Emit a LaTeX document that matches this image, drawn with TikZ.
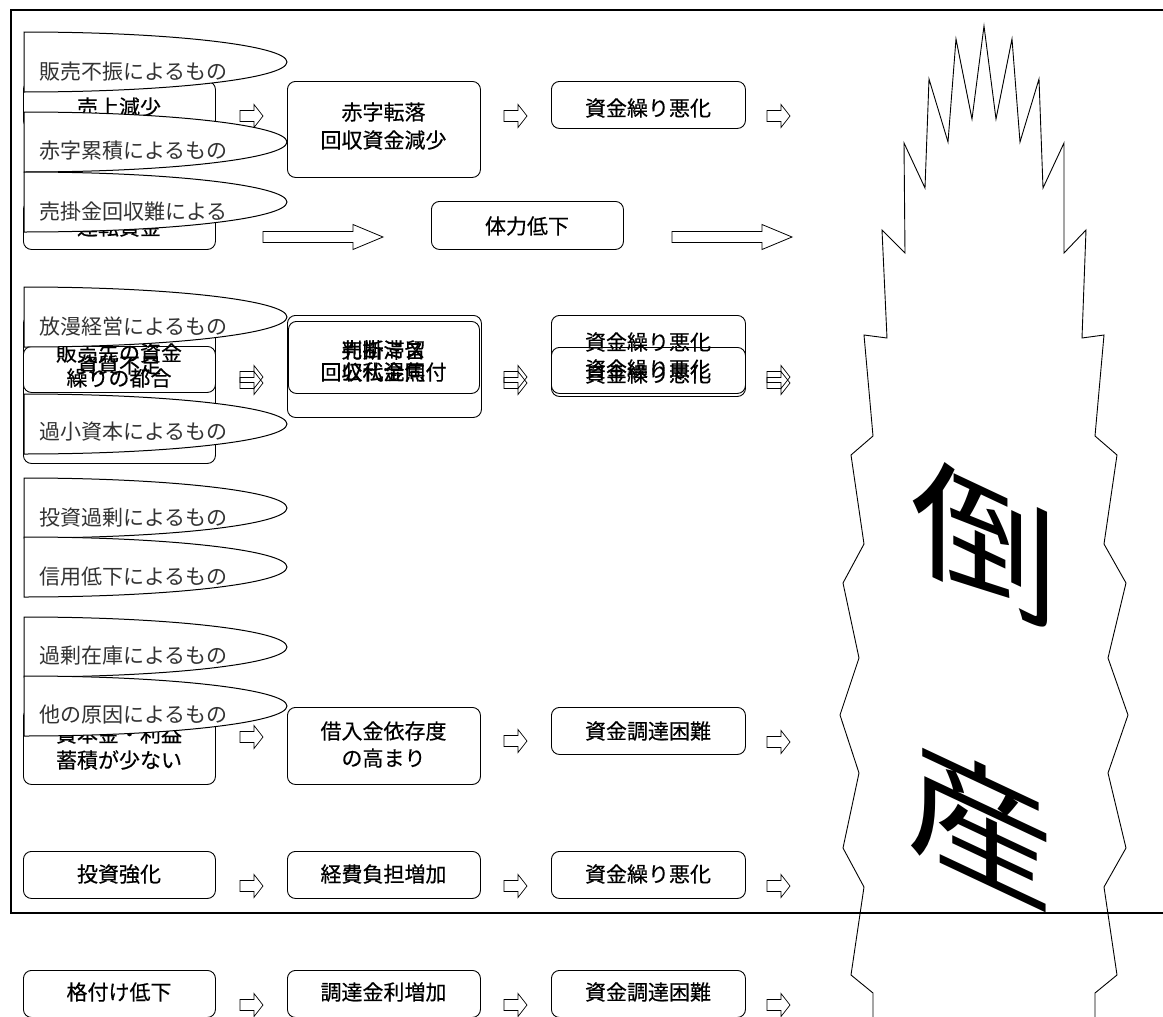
\documentclass[tikz,border=0pt]{standalone}
\usepackage{fontspec}
\newfontfamily\jp{Noto Sans CJK JP}
\newfontfamily\jpb{Noto Sans CJK JP}[FakeBold=0.4]
\begin{document}
\begin{tikzpicture}[x=1pt,y=-1pt,
  box/.style={draw, rounded corners=8pt, fill=white, line width=0.9pt, inner sep=0pt, anchor=north west},
  obox/.style={draw, rounded corners=8pt, line width=0.9pt, inner sep=0pt, anchor=north west},
  btxt/.style={font=\jpb\fontsize{21}{22}\selectfont, inner sep=0pt},
  etxt/.style={font=\jp\fontsize{21}{22}\selectfont, text=black!80, inner sep=0pt, anchor=west},
  bigchar/.style={font=\jp\fontsize{132}{140}\selectfont, inner sep=0pt, transform shape},
  halfell/.pic={\draw[fill=white, line width=1pt] (0,0) .. controls (145.3,0) and (263,13.4) .. (263,30) .. controls (263,46.6) and (145.3,60) .. (0,60) -- cycle;},
  sarrow/.pic={\draw[fill=white, line width=0.7pt] (0,-5.5) -- (14,-5.5) -- (14,-11.5) -- (23,0) -- (14,11.5) -- (14,5.5) -- (0,5.5) -- cycle;},
  oarrow/.pic={\draw[line width=0.7pt] (0,-5.5) -- (14,-5.5) -- (14,-11.5) -- (23,0) -- (14,11.5) -- (14,5.5) -- (0,5.5) -- cycle;},
  bigarrow/.pic={\draw[fill=white, line width=0.8pt] (0,-5.5) -- (90,-5.5) -- (90,-12.5) -- (120,0) -- (90,12.5) -- (90,5.5) -- (0,5.5) -- cycle;},
]
\useasboundingbox (0,0) rectangle (1163,1017);
\fill[white] (0,0) rectangle (1163,1017);

% outer frame
\draw[line width=2.5pt] (1180,10) -- (11,10) -- (11,913) -- (1180,913);

% ---------- boxes ----------
% row 1
\node[box, minimum width=192pt, minimum height=47pt] (b11) at (23,81) {};
\node[btxt] (t11) at (119,107) {売上減少};
\node[box, minimum width=193pt, minimum height=96pt] (b12) at (287,81) {};
\node[btxt] (t12a) at (383.5,112) {赤字転落};
\node[btxt] (t12b) at (383.5,140) {回収資金減少};
\node[box, minimum width=194pt, minimum height=47pt] (b13) at (551,81) {};
\node[btxt] (t13) at (648,108) {資金繰り悪化};
\pic at (240,116) {sarrow};
\pic at (504,116) {sarrow};
\pic at (767,116) {sarrow};

% row 2
\node[box, minimum width=192pt, minimum height=48pt] (b21) at (23,201) {};
\node[btxt] (t21) at (119,227) {運転資金};
\node[box, minimum width=192pt, minimum height=48pt] (b22) at (431,201) {};
\node[btxt] (t22) at (527,226) {体力低下};
\pic at (263,237) {bigarrow};
\pic at (672,237) {bigarrow};

% row 3 (overlapping)
\node[box, minimum width=192pt, minimum height=148pt] (b31q) at (23,315) {};
\node[box, minimum width=192pt, minimum height=46pt] (b31p) at (23,346) {};
\node[btxt] (t31a) at (119,353) {販売先の資金};
\node[btxt] (t31b) at (119,378) {繰りの都合};
\node[btxt] (t31c) at (119,365) {資質不足};
\node[box, minimum width=194pt, minimum height=102pt] (b32o) at (287,315) {};
\node[box, minimum width=191pt, minimum height=72pt] (b32i) at (288,321) {};
\node[btxt] (t32a) at (383.5,350) {売掛滞留};
\node[btxt] (t32b) at (383.5,372) {回収代金焦付};
\node[btxt] (t32c) at (383.5,350) {判断ミス};
\node[btxt] (t32d) at (383.5,372) {公私混同};
\node[box, minimum width=194pt, minimum height=81pt] (b33a) at (551,315) {};
\node[obox, minimum width=194pt, minimum height=46pt] (b33b) at (551,347) {};
\node[btxt] (t33a) at (648,342) {資金繰り悪化};
\node[btxt] (t33b) at (648,369) {資金繰り悪化};
\node[btxt] (t33c) at (648,374) {資金繰り悪化};
\pic at (240,377) {oarrow};
\pic at (240,383) {oarrow};
\pic at (504,377) {oarrow};
\pic at (504,383) {oarrow};
\pic at (767,377) {oarrow};
\pic at (767,383) {oarrow};

% row 4
\node[box, minimum width=192pt, minimum height=76pt] (b41) at (23,708) {};
\node[btxt] (t41a) at (119,734) {資本金・利益};
\node[btxt] (t41b) at (119,760) {蓄積が少ない};
\node[box, minimum width=193pt, minimum height=77pt] (b42) at (287,707) {};
\node[btxt] (t42a) at (383.5,731) {借入金依存度};
\node[btxt] (t42b) at (383.5,758) {の高まり};
\node[box, minimum width=194pt, minimum height=47pt] (b43) at (551,707) {};
\node[btxt] (t43) at (648,731) {資金調達困難};
\pic at (240,737) {sarrow};
\pic at (504,741) {sarrow};
\pic at (767,742) {sarrow};

% row 5
\node[box, minimum width=192pt, minimum height=47pt] (b51) at (23,851) {};
\node[btxt] (t51) at (119,874) {投資強化};
\node[box, minimum width=193pt, minimum height=47pt] (b52) at (287,851) {};
\node[btxt] (t52) at (383.5,874) {経費負担増加};
\node[box, minimum width=194pt, minimum height=47pt] (b53) at (551,851) {};
\node[btxt] (t53) at (648,874) {資金繰り悪化};
\pic at (240,886) {sarrow};
\pic at (504,886) {sarrow};
\pic at (767,886) {sarrow};

% row 6
\node[box, minimum width=192pt, minimum height=47pt] (b61) at (23,970) {};
\node[btxt] (t61) at (119,992) {格付け低下};
\node[box, minimum width=193pt, minimum height=47pt] (b62) at (287,970) {};
\node[btxt] (t62) at (383.5,992) {調達金利増加};
\node[box, minimum width=194pt, minimum height=47pt] (b63) at (551,970) {};
\node[btxt] (t63) at (648,992) {資金調達困難};
\pic at (240,1005) {sarrow};
\pic at (504,1005) {sarrow};
\pic at (767,1005) {sarrow};

% ---------- half ellipses ----------
\pic at (24,32) {halfell};
\node[etxt] (e1) at (39,72) {販売不振によるもの};
\pic at (24,112) {halfell};
\node[etxt] (e2) at (39,151) {赤字累積によるもの};
\pic at (24,172) {halfell};
\node[etxt] (e3) at (39,212) {売掛金回収難による};
\pic at (24,287) {halfell};
\node[etxt] (e4) at (39,327) {放漫経営によるもの};
\pic at (24,394) {halfell};
\node[etxt] (e5) at (39,432) {過小資本によるもの};
\pic at (24,478) {halfell};
\node[etxt] (e6) at (39,518) {投資過剰によるもの};
\pic at (24,537) {halfell};
\node[etxt] (e7) at (39,577) {信用低下によるもの};
\pic at (24,617) {halfell};
\node[etxt] (e8) at (39,656) {過剰在庫によるもの};
\pic at (24,676) {halfell};
\node[etxt] (e9) at (39,715) {他の原因によるもの};

% ---------- explosion ----------
\draw[line width=0.9pt]
 (873,1020) -- (873,993) -- (851,975) -- (864,887) -- (843,848) -- (859,773) -- (840,715)
 -- (859,658) -- (843,583) -- (864,544) -- (851,455) -- (873,436) -- (864,335) -- (887,338)
 -- (882,230) -- (905,253) -- (904,143) -- (925,188) -- (929,79) -- (948,142) -- (956,39)
 -- (972,119) -- (984,26) -- (996,119) -- (1012,39) -- (1020,142) -- (1039,79) -- (1043,188)
 -- (1064,143) -- (1064,253) -- (1086,230) -- (1082,338) -- (1104,335) -- (1095,436)
 -- (1117,455) -- (1104,544) -- (1126,583) -- (1108,658) -- (1128,715) -- (1108,773)
 -- (1126,848) -- (1104,887) -- (1117,975) -- (1095,993) -- (1095,1020);

\begin{scope}[shift={(984,542)}, yslant=-0.47, xscale=1.12]
\node[bigchar] (k1) at (0,0) {倒};
\end{scope}
\begin{scope}[shift={(980,824)}, yslant=-0.47, xscale=1.12]
\node[bigchar] (k2) at (0,0) {産};
\end{scope}
\end{tikzpicture}
\end{document}
